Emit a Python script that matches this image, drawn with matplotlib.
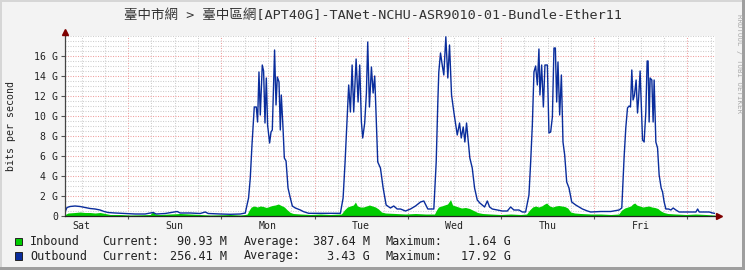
import matplotlib
matplotlib.use('Agg')
import matplotlib.pyplot as plt
import matplotlib.transforms as mtransforms
from matplotlib.patches import Rectangle
from matplotlib.ticker import MultipleLocator

plt.rcParams['font.family'] = ['DejaVu Sans Mono', 'Noto Sans CJK TC']

# ---------------- data ----------------
title = "臺中市網 > 臺中區網[APT40G]-TANet-NCHU-ASR9010-01-Bundle-Ether11"
y_label = "bits per second"

day_labels = ["Sat", "Sun", "Mon", "Tue", "Wed", "Thu", "Fri"]
day_centers = [12, 36, 60, 84, 108, 132, 156]     # hours since Sat 00:00 (noon of each day)
x_range = [7.75, 175.1]                            # hours since Sat 00:00

y_ticks = [0, 2, 4, 6, 8, 10, 12, 14, 16]
y_tick_labels = ["0", "2 G", "4 G", "6 G", "8 G", "10 G", "12 G", "14 G", "16 G"]
y_max = 18

# outbound (Gbit/s) vs hours since Sat 00:00
out_t = [7.76, 8.27, 9.05, 10.34, 11.63, 12.91, 14.20, 15.49, 16.78, 17.81, 18.84, 20.65,
         23.23, 25.80, 28.38, 30.44, 31.22, 33.54, 36.63, 37.41, 39.98, 42.56, 43.85, 44.62,
         47.72, 50.29, 52.87, 54.16,
         55.01, 55.45, 55.89, 56.48, 57.00, 57.33, 57.69, 58.03, 58.54, 58.88, 59.24, 59.58,
         59.91, 60.43, 60.79, 61.12, 61.71, 62.08, 62.41, 62.85, 63.18, 63.44, 63.88, 64.22,
         64.66, 65.17, 65.76, 66.28, 67.05, 68.34, 69.19, 70.48, 72.46, 76.07, 78.65,
         79.35, 79.86, 80.38, 80.79, 81.23, 81.67, 82.08, 82.70, 83.21, 83.63, 84.06, 84.40,
         84.91, 85.35, 85.69, 86.13, 86.64, 87.08, 87.49, 87.93, 88.27, 88.96, 89.66, 90.43,
         91.54, 92.39, 93.27, 94.12, 95.41, 96.70, 97.99, 99.28, 100.13, 101.16, 102.71,
         103.32, 103.74, 103.99, 104.43, 104.87, 105.28, 105.80, 106.31, 106.75, 107.27,
         107.86, 108.74, 109.33, 109.77, 110.28, 110.70, 111.13, 111.65, 111.98, 112.60,
         113.20, 113.89, 114.56, 115.18, 115.78, 116.47, 117.07, 117.76, 119.05, 120.34,
         121.63, 122.48, 123.33, 124.62, 125.50, 126.34,
         127.20, 127.64, 128.07, 128.49, 128.92, 129.36, 129.77, 130.03, 130.47, 130.91,
         131.32, 131.94, 132.35, 132.79, 133.23, 133.64, 134.00, 134.34, 134.67, 135.11,
         135.55, 135.96, 136.40, 136.92, 137.51, 138.21, 139.24, 140.09, 140.97, 142.26,
         143.10, 145.68, 148.26, 150.40, 151.10,
         151.69, 152.13, 152.57, 152.98, 153.34, 153.68, 154.01, 154.37, 154.79, 155.15,
         155.41, 155.82, 156.18, 156.44, 156.85, 157.29, 157.63, 157.88, 158.14, 158.40,
         158.84, 159.17, 159.43, 159.87, 160.31, 160.72, 161.24, 161.60, 162.01, 162.45,
         163.15, 163.74, 164.33, 165.03, 165.88, 167.61, 170.19, 170.63, 171.04, 173.62,
         174.49, 175.09]
out_v = [0.4, 0.85, 0.95, 1.0, 0.95, 0.85, 0.75, 0.7, 0.6, 0.45, 0.35, 0.3,
         0.25, 0.2, 0.2, 0.35, 0.2, 0.25, 0.45, 0.3, 0.3, 0.25, 0.4, 0.25,
         0.2, 0.17, 0.2, 0.3,
         1.8, 3.8, 7.1, 10.9, 10.9, 9.4, 14.4, 10.1, 15.1, 14.5, 9.3, 13.8,
         9.1, 7.3, 8.4, 8.6, 16.6, 11.1, 13.9, 13.4, 8.6, 12.1, 8.8, 5.8,
         5.5, 2.8, 1.8, 1.0, 0.8, 0.6, 0.43, 0.27, 0.27, 0.27, 0.27,
         1.8, 5.4, 9.6, 13.1, 10.4, 15.1, 10.4, 15.7, 11.4, 15.1, 9.4, 7.8,
         9.3, 12.3, 17.4, 10.9, 14.9, 12.3, 14.0, 9.1, 5.4, 4.8, 2.8, 1.1,
         0.8, 1.0, 0.7, 0.7, 0.5, 0.7, 1.0, 1.4, 1.5, 0.7, 0.7,
         5.4, 11.4, 14.4, 16.3, 15.1, 14.1, 17.92, 13.8, 17.1, 12.1,
         10.4, 8.1, 9.3, 7.8, 8.9, 7.4, 9.3, 7.1, 5.8, 4.8,
         2.8, 1.6, 1.3, 1.1, 0.9, 1.5, 0.9, 0.7, 0.6, 0.5,
         0.5, 0.9, 0.6, 0.6, 0.4, 0.4,
         2.1, 5.4, 9.1, 14.4, 15.0, 13.1, 16.7, 12.1, 15.1, 10.9,
         15.1, 15.1, 8.3, 8.4, 9.9, 16.8, 16.8, 11.4, 15.4, 10.1,
         14.1, 7.4, 6.1, 3.4, 2.8, 1.4, 1.1, 0.9, 0.7, 0.5,
         0.4, 0.45, 0.45, 0.6, 0.8,
         5.8, 8.8, 10.8, 11.0, 10.9, 14.6, 11.6, 12.1, 13.6, 10.3,
         11.6, 14.5, 10.4, 7.6, 7.4, 10.4, 15.5, 15.5, 9.4, 13.8,
         13.6, 9.4, 13.6, 7.4, 6.8, 4.1, 2.8, 2.4, 1.4, 0.7,
         0.7, 0.6, 0.8, 0.6, 0.4, 0.4, 0.4, 0.7, 0.4, 0.4,
         0.3, 0.26]

# inbound (Gbit/s) vs hours since Sat 00:00
in_t = [7.76, 8.53, 10.34, 11.63, 12.91, 14.20, 15.49, 16.78, 18.07, 19.36, 21.94, 24.52,
        27.09, 29.67, 30.44, 30.96, 32.25, 34.83, 37.41, 39.98, 42.56, 45.14, 47.72, 50.29,
        52.87, 54.16,
        54.68, 55.19, 55.71, 56.48, 57.26, 58.03, 58.80, 59.58, 60.35, 61.12, 61.90, 62.67,
        63.44, 64.22, 64.99, 65.76, 66.54, 68.34, 70.92, 73.50, 76.07, 78.65,
        78.91, 79.68, 80.46, 81.23, 82.00, 82.52, 83.03, 83.81, 84.58, 85.35, 86.13, 86.90,
        87.67, 88.45, 89.22, 90.25, 92.83, 95.41, 97.99, 100.57, 102.37,
        102.88, 103.40, 103.91, 104.69, 105.46, 106.23, 107.01, 107.52, 108.30, 109.07,
        109.84, 110.87, 111.90, 112.94, 113.97, 115.26, 117.32, 119.90, 122.48, 125.05,
        126.60, 127.37, 128.14, 128.92, 129.69, 130.46, 131.24, 131.75, 132.53, 133.30,
        134.07, 134.85, 135.62, 136.40, 137.17, 137.94, 138.97, 140.52, 143.10, 145.68,
        148.26, 150.32,
        151.09, 151.87, 152.64, 153.41, 153.93, 154.44, 154.96, 155.73, 156.51, 157.28,
        158.05, 158.83, 159.60, 160.37, 161.15, 161.92, 162.95, 165.01, 167.59, 170.17,
        172.75, 175.07]
in_v = [0.15, 0.3, 0.35, 0.4, 0.35, 0.35, 0.3, 0.35, 0.25, 0.15, 0.15, 0.1,
        0.12, 0.15, 0.45, 0.2, 0.15, 0.2, 0.25, 0.2, 0.15, 0.1, 0.12, 0.15,
        0.1, 0.15,
        0.2, 0.6, 0.9, 1.0, 0.9, 1.0, 0.95, 0.85, 0.95, 1.05, 1.1, 1.2,
        1.05, 0.9, 0.6, 0.35, 0.25, 0.2, 0.15, 0.2, 0.15, 0.2,
        0.2, 0.6, 0.9, 1.0, 1.1, 1.4, 1.0, 0.9, 0.9, 1.0, 1.1, 1.0,
        0.9, 0.7, 0.4, 0.3, 0.25, 0.2, 0.25, 0.2, 0.2,
        0.2, 0.6, 0.9, 1.0, 1.1, 1.2, 1.64, 1.1, 1.0, 0.9,
        0.8, 0.85, 0.75, 0.55, 0.35, 0.25, 0.2, 0.15, 0.2, 0.15,
        0.2, 0.6, 0.9, 1.0, 0.9, 1.0, 1.2, 1.3, 1.0, 0.9,
        1.0, 1.05, 1.0, 0.95, 0.8, 0.4, 0.3, 0.25, 0.2, 0.2,
        0.15, 0.2,
        0.6, 0.8, 0.9, 1.0, 1.2, 1.3, 1.1, 1.0, 0.9, 0.95,
        1.0, 0.9, 0.85, 0.75, 0.5, 0.35, 0.25, 0.2, 0.15, 0.2,
        0.15, 0.09]

legend_names = ["Inbound", "Outbound"]
legend_colors = ["#00CC00", "#0A2D9C"]
legend_current = ["90.93 M", "256.41 M"]
legend_average = ["387.64 M", "3.43 G"]
legend_maximum = ["1.64 G", "17.92 G"]

# ---------------- figure ----------------
W, H = 745, 270
fig = plt.figure(figsize=(W / 100, H / 100), dpi=100)
fig.patch.set_facecolor('#F3F3F3')

# frame shading
fig.add_artist(Rectangle((0, 0), 2 / W, 1, transform=fig.transFigure, color='#D6D6D6', lw=0))
fig.add_artist(Rectangle((0, 1 - 2 / H), 1, 2 / H, transform=fig.transFigure, color='#D6D6D6', lw=0))
fig.add_artist(Rectangle((1 - 3 / W, 0), 3 / W, 1, transform=fig.transFigure, color='#9E9E9E', lw=0))
fig.add_artist(Rectangle((0, 0), 1, 3 / H, transform=fig.transFigure, color='#9E9E9E', lw=0))

ax = fig.add_axes([65 / W, 54 / H, 650 / W, 180 / H])
ax.set_facecolor('white')
for s in ax.spines.values():
    s.set_visible(False)

ax.fill_between(in_t, in_v, 0, color=legend_colors[0], linewidth=0, zorder=2)
ax.plot(out_t, out_v, color=legend_colors[1], lw=1.0, zorder=3)

ax.set_xlim(*x_range)
ax.set_ylim(0, y_max)

ax.xaxis.set_major_locator(MultipleLocator(24))
ax.xaxis.set_minor_locator(MultipleLocator(6))
ax.set_yticks(y_ticks, y_tick_labels)
ax.yaxis.set_minor_locator(MultipleLocator(0.5))
ax.set_xticklabels([])

ax.grid(which='minor', color='#CFCFCF', ls=(0, (1, 1.4)), lw=0.75, zorder=0)
ax.grid(which='major', color='#F0A0A0', ls=(0, (1, 1.4)), lw=0.75, zorder=0)
ax.set_axisbelow(True)

ax.tick_params(axis='y', which='major', length=3, width=0.8, color='#555555', pad=2,
               labelsize=7.1, labelcolor='#222222')
ax.tick_params(axis='y', which='minor', length=0)
ax.tick_params(axis='x', which='major', length=2.5, width=0.8, color='#555555')
ax.tick_params(axis='x', which='minor', length=0)

trans = mtransforms.blended_transform_factory(ax.transData, ax.transAxes)
for lbl, c in zip(day_labels, day_centers):
    ax.text(c, -0.053, lbl, transform=trans, ha='center', va='center',
            fontsize=7.1, color='#222222')

# axes lines with arrows
ax.plot([0, 0], [0, 1.02], transform=ax.transAxes, color='#444444', lw=0.9, clip_on=False, zorder=5)
ax.plot([0, 1.004], [0, 0], transform=ax.transAxes, color='#222222', lw=0.9, clip_on=False, zorder=5)
ax.plot([0], [1.025], marker='^', ms=4, color='#7F0000', transform=ax.transAxes, clip_on=False, zorder=6)
ax.plot([1.0057], [0], marker='>', ms=4, color='#7F0000', transform=ax.transAxes, clip_on=False, zorder=6)

# texts
fig.text(0.5, 1 - 15 / H, title, ha='center', va='center', fontsize=9.7, color='#333333')
fig.text(11 / W, 1 - 126 / H, y_label, rotation=90, ha='center', va='center',
         fontsize=7.1, color='#222222')
fig.text(739 / W, 1 - 63 / H, "RRDTOOL / TOBI OETIKER", rotation=270, ha='center', va='center',
         fontsize=5.3, color='#AAAAAA')

# legend
rows_y = [241.5, 256]
for i in range(2):
    yy = 1 - rows_y[i] / H
    fig.add_artist(Rectangle((15 / W, 1 - (rows_y[i] + 3.8) / H), 7.5 / W, 7.5 / H,
                             transform=fig.transFigure, facecolor=legend_colors[i],
                             edgecolor='#222222', lw=0.7))
    kw = dict(va='center', fontsize=8.5, color='#222222')
    fig.text(30 / W, yy, legend_names[i], ha='left', **kw)
    fig.text(102 / W, yy, "Current:", ha='left', **kw)
    fig.text(227 / W, yy, legend_current[i], ha='right', **kw)
    fig.text(244 / W, yy, "Average:", ha='left', **kw)
    fig.text(370 / W, yy, legend_average[i], ha='right', **kw)
    fig.text(386 / W, yy, "Maximum:", ha='left', **kw)
    fig.text(511 / W, yy, legend_maximum[i], ha='right', **kw)

fig.savefig('out.png', dpi=100, facecolor=fig.get_facecolor())
